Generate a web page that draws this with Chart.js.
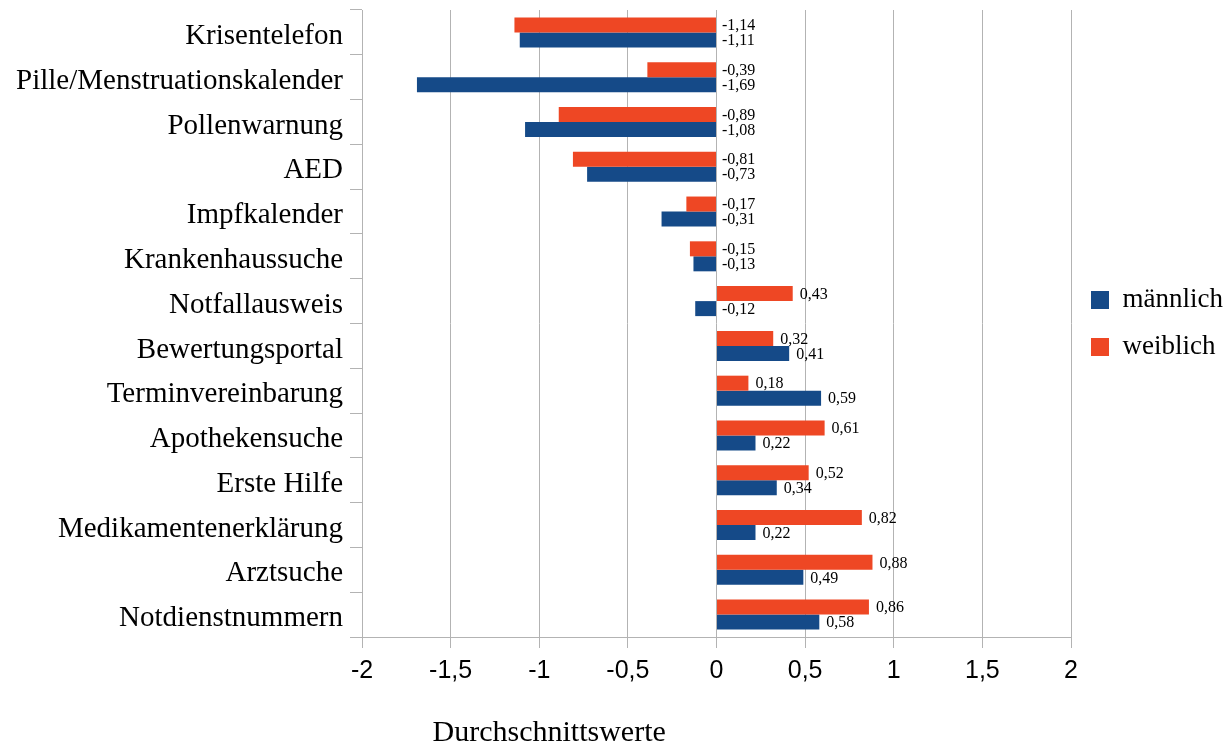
<!DOCTYPE html>
<html lang="de">

<head>
    <meta charset="UTF-8">
    <title>Durchschnittswerte</title>
    <script src="https://cdn.jsdelivr.net/npm/chart.js@4.4.0/dist/chart.umd.min.js"></script>
    <style>
        body { margin: 0; background: #fff; }
        #wrap { width: 1226px; height: 747px; }
    </style>
</head>

<body>
    <div id="wrap"><canvas id="chart" width="1226" height="747"></canvas></div>
    <script>
        const categories = ['Krisentelefon', 'Pille/Menstruationskalender', 'Pollenwarnung', 'AED', 'Impfkalender',
            'Krankenhaussuche', 'Notfallausweis', 'Bewertungsportal', 'Terminvereinbarung', 'Apothekensuche',
            'Erste Hilfe', 'Medikamentenerklärung', 'Arztsuche', 'Notdienstnummern'];
        const weiblich = [-1.14, -0.39, -0.89, -0.81, -0.17, -0.15, 0.43, 0.32, 0.18, 0.61, 0.52, 0.82, 0.88, 0.86];
        const maennlich = [-1.11, -1.69, -1.08, -0.73, -0.31, -0.13, -0.12, 0.41, 0.59, 0.22, 0.34, 0.22, 0.49, 0.58];
        const xTitle = 'Durchschnittswerte';

        const fmt = v => String(v).replace('.', ',');
        const gridCol = '#b3b3b3';

        // value labels: negatives sit right of the zero line, positives after the bar end
        const valueLabels = {
            id: 'valueLabels',
            afterDatasetsDraw(chart) {
                const ctx = chart.ctx;
                ctx.save();
                ctx.font = '16px "Liberation Serif"';
                ctx.fillStyle = '#000';
                ctx.textAlign = 'left';
                ctx.textBaseline = 'middle';
                chart.data.datasets.forEach((ds, i) => {
                    chart.getDatasetMeta(i).data.forEach((bar, j) => {
                        const v = ds.data[j];
                        const x = v < 0 ? bar.base + 6 : bar.x + 7;
                        ctx.fillText(fmt(v.toFixed(2)), x, bar.y + 1);
                    });
                });
                ctx.restore();
            }
        };

        const axisTitle = {
            id: 'axisTitle',
            afterDraw(chart) {
                const a = chart.chartArea;
                const ctx = chart.ctx;
                ctx.save();
                ctx.font = '30px "Liberation Serif"';
                ctx.fillStyle = '#000';
                ctx.textAlign = 'center';
                ctx.textBaseline = 'middle';
                ctx.fillText(xTitle, a.left + a.width * 0.264, 733);
                ctx.restore();
            }
        };

        new Chart(document.getElementById('chart'), {
            type: 'bar',
            data: {
                labels: categories,
                datasets: [
                    { label: 'weiblich', data: weiblich, backgroundColor: '#ee4724', barPercentage: 1, categoryPercentage: 0.67 },
                    { label: 'männlich', data: maennlich, backgroundColor: '#154a88', barPercentage: 1, categoryPercentage: 0.67 }
                ]
            },
            options: {
                indexAxis: 'y',
                responsive: false,
                animation: false,
                layout: { padding: { top: 10, right: 0, left: 0, bottom: 0 } },
                scales: {
                    x: {
                        min: -2,
                        max: 2,
                        ticks: {
                            stepSize: 0.5,
                            color: '#000',
                            padding: 8,
                            font: { family: 'Liberation Sans', size: 25 },
                            callback: v => fmt(v)
                        },
                        grid: { color: gridCol, tickLength: 11 },
                        border: { color: gridCol },
                        afterFit: s => { s.height = 110; s.paddingLeft = 0; s.paddingRight = 0; }
                    },
                    y: {
                        ticks: {
                            color: '#000',
                            padding: 7,
                            labelOffset: 4,
                            font: { family: 'Liberation Serif', size: 29 }
                        },
                        grid: { drawOnChartArea: false, color: gridCol, tickLength: 12 },
                        border: { color: gridCol },
                        afterFit: s => { s.width = 362; s.paddingTop = 0; s.paddingBottom = 0; }
                    }
                },
                plugins: {
                    legend: {
                        position: 'right',
                        reverse: true,
                        fullSize: false,
                        maxWidth: 155,
                        labels: {
                            color: '#000',
                            boxWidth: 18,
                            boxHeight: 18,
                            padding: 20,
                            font: { family: 'Liberation Serif', size: 27 }
                        }
                    },
                    tooltip: { enabled: false }
                }
            },
            plugins: [valueLabels, axisTitle]
        });
    </script>
</body>

</html>
